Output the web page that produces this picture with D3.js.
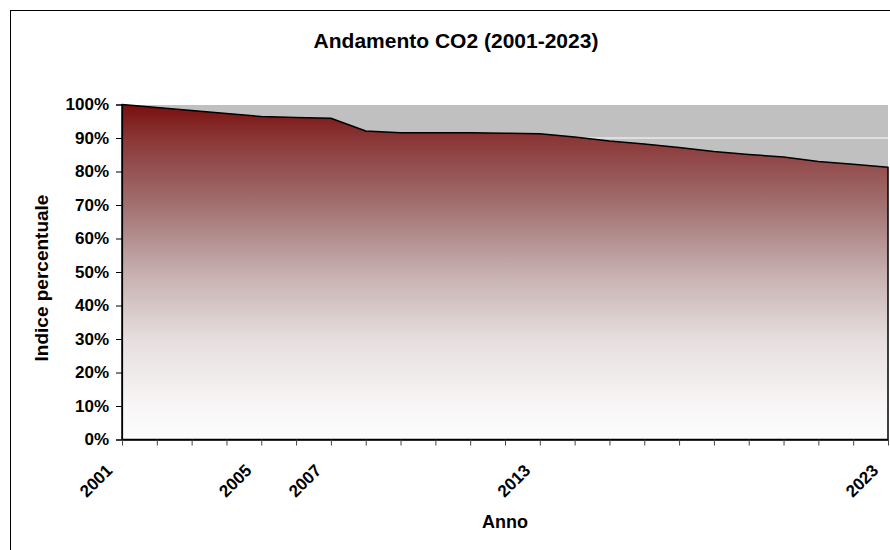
<!DOCTYPE html>
<html>
<head>
<meta charset="utf-8">
<script src="https://cdn.jsdelivr.net/npm/d3@7"></script>
<style>
  html, body { margin: 0; padding: 0; background: #fff; }
  svg { display: block; }
  text { font-family: "Liberation Sans", Arial, Helvetica, sans-serif; font-weight: bold; fill: #000; }
</style>
</head>
<body>
<svg id="chart" width="890" height="550"></svg>
<script>
const years = [2001, 2002, 2003, 2004, 2005, 2006, 2007, 2008, 2009, 2010, 2011, 2012,
               2013, 2014, 2015, 2016, 2017, 2018, 2019, 2020, 2021, 2022, 2023];
const co2Index = [100.0, 99.1, 98.2, 97.3, 96.4, 96.1, 95.9, 92.1, 91.6, 91.6, 91.6, 91.4,
                  91.3, 90.3, 89.1, 88.2, 87.2, 86.0, 85.1, 84.3, 83.0, 82.2, 81.3];
const labeledYears = [2001, 2005, 2007, 2013, 2023];
const yTicks = [0, 10, 20, 30, 40, 50, 60, 70, 80, 90, 100];
const chartTitle = "Andamento CO2 (2001-2023)";
const xTitle = "Anno";
const yTitle = "Indice percentuale";

const data = years.map((y, i) => ({ year: y, value: co2Index[i] }));

const svg = d3.select("#chart");
const plot = { left: 122, right: 888, top: 104.5, bottom: 439.5 };

// outer chart frame
svg.append("rect")
  .attr("x", 10.5).attr("y", 10.5).attr("width", 1000).attr("height", 1000)
  .attr("fill", "#fff").attr("stroke", "#000").attr("stroke-width", 1);

const x = d3.scaleLinear().domain([years[0], years[years.length - 1]]).range([plot.left, plot.right]);
const y = d3.scaleLinear().domain([0, 100]).range([plot.bottom, plot.top]);

// gradient
const defs = svg.append("defs");
const grad = defs.append("linearGradient").attr("id", "areaGrad")
  .attr("gradientUnits", "userSpaceOnUse")
  .attr("x1", 0).attr("x2", 0).attr("y1", y(100)).attr("y2", y(0));
[[0, "rgb(122,14,14)"], [0.1, "rgb(138,54,54)"], [0.3, "rgb(162,112,112)"],
 [0.5, "rgb(198,174,174)"], [0.7, "rgb(230,222,222)"], [0.9, "rgb(248,246,246)"],
 [1, "rgb(253,253,253)"]].forEach(([o, c]) => grad.append("stop").attr("offset", o).attr("stop-color", c));

// plot background
svg.append("rect")
  .attr("x", plot.left).attr("y", plot.top)
  .attr("width", plot.right - plot.left).attr("height", plot.bottom - plot.top)
  .attr("fill", "#c0c0c0");

// gridlines
svg.append("g").selectAll("line").data(yTicks.filter(t => t > 0)).join("line")
  .attr("x1", plot.left).attr("x2", plot.right)
  .attr("y1", d => y(d)).attr("y2", d => y(d))
  .attr("stroke", "#fff").attr("stroke-width", 1);

// area
const area = d3.area().x(d => x(d.year)).y0(y(0)).y1(d => y(d.value));
svg.append("path").datum(data)
  .attr("d", area)
  .attr("fill", "url(#areaGrad)")
  .attr("stroke", "#000").attr("stroke-width", 1.5).attr("stroke-linejoin", "round");

// y axis
const yAxis = d3.axisLeft(y).tickValues(yTicks).tickFormat(d => d + "%").tickSize(6).tickPadding(7);
const gy = svg.append("g").attr("transform", `translate(${plot.left},0)`).call(yAxis);
gy.select(".domain").attr("stroke", "#000").attr("stroke-width", 1.2);
gy.selectAll(".tick line").attr("stroke", "#000");
gy.selectAll(".tick text").style("font-size", "17px").style("font-family", '"Liberation Sans", Arial, sans-serif').style("font-weight", "bold").attr("fill", "#000");

// x axis
const xAxis = d3.axisBottom(x).tickValues(years).tickFormat(d => labeledYears.includes(d) ? d : "").tickSize(6).tickSizeOuter(0);
const gx = svg.append("g").attr("transform", `translate(0,${plot.bottom})`).call(xAxis);
gx.select(".domain").attr("stroke", "#000").attr("stroke-width", 1.5);
gx.selectAll(".tick line").attr("stroke", "#444");
gx.selectAll(".tick text")
  .style("font-size", "17px").style("font-family", '"Liberation Sans", Arial, sans-serif').style("font-weight", "bold").attr("fill", "#000")
  .attr("text-anchor", "end")
  .attr("y", 0).attr("dy", 0)
  .attr("transform", "translate(-9,32) rotate(-45)");

// titles
svg.append("text").attr("x", 456).attr("y", 48).attr("text-anchor", "middle")
  .style("font-size", "21px").text(chartTitle);
svg.append("text").attr("x", 505).attr("y", 528).attr("text-anchor", "middle")
  .style("font-size", "18px").text(xTitle);
svg.append("text").attr("transform", "translate(48,278) rotate(-90)").attr("text-anchor", "middle")
  .style("font-size", "19px").text(yTitle);
</script>
</body>
</html>
